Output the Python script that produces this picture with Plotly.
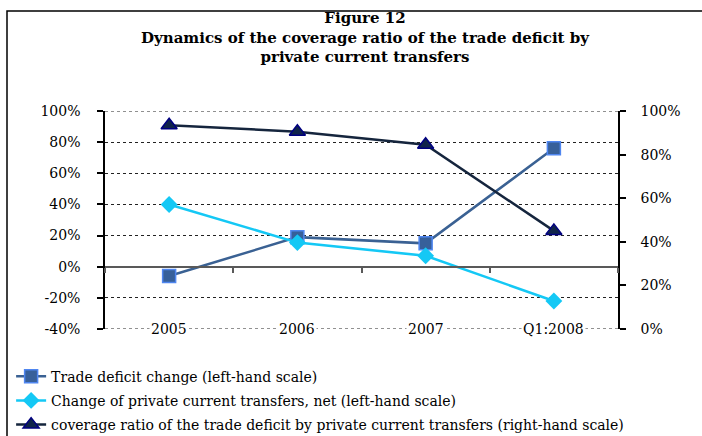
import plotly.graph_objects as go

categories = ["2005", "2006", "2007", "Q1:2008"]
trade_deficit_change = [-6, 19, 15, 76]
private_transfers_change = [40, 15.5, 7, -22]
coverage_ratio = [93.5, 90.5, 84.5, 45]

left_ticks = [-40, -20, 0, 20, 40, 60, 80, 100]
right_ticks = [0, 20, 40, 60, 80, 100]

title_lines = ["Figure 12",
               "Dynamics of the coverage ratio of the trade deficit by",
               "private current transfers"]

SERIF = "DejaVu Serif, serif"

fig = go.Figure()
fig.add_trace(go.Scatter(
    x=categories, y=trade_deficit_change, name="Trade deficit change (left-hand scale)",
    legendgroup="a",
    mode="lines+markers", line=dict(color="#3A6193", width=2.5),
    marker=dict(symbol="square", size=13, color="#37609A", line=dict(color="#4F86F0", width=1.5))))
fig.add_trace(go.Scatter(
    x=categories, y=private_transfers_change,
    name="Change of private current transfers, net (left-hand scale)",
    legendgroup="b",
    mode="lines+markers", line=dict(color="#14C8F5", width=2.5),
    marker=dict(symbol="diamond", size=13, color="#14C8F5", line=dict(width=0))))
fig.add_trace(go.Scatter(
    x=categories, y=coverage_ratio,
    name="coverage ratio of the trade deficit by private current transfers (right-hand scale)",
    legendgroup="c",
    mode="lines+markers", line=dict(color="#15253D", width=2.5), yaxis="y2",
    marker=dict(symbol="triangle-up", size=14, color="#10244A", line=dict(color="#000080", width=1.5))))

zero_pos = (0 - left_ticks[0]) / (left_ticks[-1] - left_ticks[0])

fig.update_layout(
    width=702, height=436,
    margin=dict(l=105, r=84, t=111, b=107, autoexpand=False),
    paper_bgcolor="white", plot_bgcolor="white",
    font=dict(family=SERIF, size=14, color="black"),
    showlegend=True,
    legend=dict(x=-0.183, xanchor="left", y=-0.145, yanchor="top",
                font=dict(family=SERIF, size=14, color="black"),
                bgcolor="rgba(0,0,0,0)", itemwidth=30, tracegroupgap=3),
    xaxis=dict(type="category", categoryorder="array", categoryarray=categories,
               range=[-0.5, len(categories) - 0.5],
               anchor="free", position=zero_pos,
               showline=True, linecolor="#595959", linewidth=2,
               ticks="outside", ticklen=5, tickcolor="#595959", tickwidth=1.5,
               tickson="boundaries", showticklabels=False, showgrid=False, zeroline=False),
    yaxis=dict(range=[left_ticks[0], left_ticks[-1]], tickvals=left_ticks,
               ticktext=[f"{v}%" for v in left_ticks],
               showline=True, linecolor="black", linewidth=1.5,
               ticks="outside", ticklen=6, tickcolor="black", tickwidth=1.5,
               showgrid=True, gridcolor="#222", griddash="dot", gridwidth=1,
               zeroline=False, ticklabelstandoff=14,
               tickfont=dict(family=SERIF, size=14, color="black")),
    yaxis2=dict(range=[right_ticks[0], right_ticks[-1]], tickvals=right_ticks,
                ticktext=[f"{v}%" for v in right_ticks],
                overlaying="y", side="right", anchor="x",
                showline=True, linecolor="black", linewidth=1.5,
                ticks="outside", ticklen=6, tickcolor="black", tickwidth=1.5,
                showgrid=False, zeroline=False, ticklabelstandoff=12,
                tickfont=dict(family=SERIF, size=14, color="black")),
)

# edge gridlines (plotly skips gridlines that sit on the plot edges)
for v in (left_ticks[0], left_ticks[-1]):
    fig.add_shape(type="line", xref="paper", yref="y", x0=0, x1=1, y0=v, y1=v,
                  line=dict(color="#222", width=1, dash="dot"), layer="below")

# category labels sitting on the bottom gridline with white background
for i, c in enumerate(categories):
    fig.add_annotation(x=i, y=left_ticks[0], xref="x", yref="y", text=c, showarrow=False,
                       font=dict(family=SERIF, size=14, color="black"),
                       bgcolor="white", borderpad=1, yanchor="middle")

# title block
fig.add_annotation(x=(365 - 105) / 513, y=(329 - 37) / 218, xref="paper", yref="paper",
                   text="<br>".join(f"<b>{t}</b>" for t in title_lines), showarrow=False,
                   font=dict(family=SERIF, size=15, color="black"),
                   xanchor="center", yanchor="middle", align="center")

# outer frame
fig.add_shape(type="rect", xref="paper", yref="paper",
              x0=(7 - 105) / 513, x1=1.4, y0=-0.8, y1=(329 - 11) / 218,
              line=dict(color="black", width=1.5), fillcolor="rgba(0,0,0,0)", layer="below")

fig.write_html("out.html", config={"displayModeBar": False},
               post_script="document.body.style.margin='0';")
